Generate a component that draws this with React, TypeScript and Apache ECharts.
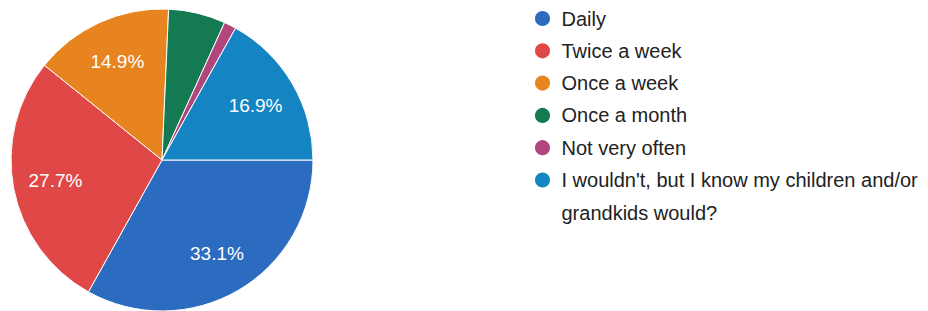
import React, { useEffect, useRef } from "react";
import * as echarts from "echarts";

const categories = [
  "Daily",
  "Twice a week",
  "Once a week",
  "Once a month",
  "Not very often",
  "I wouldn't, but I know my children and/or grandkids would?",
];
const values = [33.1, 27.7, 14.9, 6.1, 1.3, 16.9];
const colors = ["#2b6cc0", "#e04848", "#e8841f", "#137a52", "#b0467c", "#1484c3"];
const legendLabels = [
  "Daily",
  "Twice a week",
  "Once a week",
  "Once a month",
  "Not very often",
  "\nI wouldn't, but I know my children and/or\ngrandkids would?",
];

export default function App() {
  const ref = useRef<HTMLDivElement>(null);
  useEffect(() => {
    if (!ref.current) return;
    const chart = echarts.init(ref.current, undefined, { renderer: "svg" });
    const data = categories.map((name, i) => ({
      name,
      value: values[i],
      itemStyle: { color: colors[i] },
    }));
    const font = "Liberation Sans, Arial, sans-serif";
    const legendBase = {
      orient: "vertical",
      left: 533,
      height: 600,
      width: 400,
      padding: 0,
      icon: "circle",
      itemWidth: 28,
      itemHeight: 17,
      selectedMode: false,
      formatter: (name: string) => legendLabels[categories.indexOf(name)],
    };
    chart.setOption({
      animation: false,
      backgroundColor: "#ffffff",
      legend: [
        {
          ...legendBase,
          top: 8.5,
          itemGap: 12.3,
          textStyle: { fontSize: 20, color: "#222222", fontFamily: font },
          data: categories.slice(0, 5),
        },
        {
          ...legendBase,
          top: 131.25,
          itemGap: 0,
          textStyle: { fontSize: 20, color: "#222222", fontFamily: font, lineHeight: 32.5 },
          data: categories.slice(5),
        },
      ],
      series: [
        {
          type: "pie",
          center: [162, 160],
          radius: [0, 151],
          startAngle: 0,
          clockwise: true,
          avoidLabelOverlap: false,
          itemStyle: { borderColor: "#ffffff", borderWidth: 1 },
          label: { show: false },
          labelLine: { show: false },
          emphasis: { disabled: true },
          data,
        },
        {
          type: "pie",
          center: [162, 160],
          radius: [60, 151],
          startAngle: 0,
          clockwise: true,
          silent: true,
          avoidLabelOverlap: false,
          itemStyle: { color: "rgba(0,0,0,0)", borderWidth: 0 },
          label: {
            show: true,
            position: "inside",
            color: "#ffffff",
            fontSize: 19,
            fontFamily: font,
            formatter: (p: any) => (p.value >= 10 ? p.value.toFixed(1) + "%" : ""),
          },
          labelLine: { show: false },
          emphasis: { disabled: true },
          data: categories.map((name, i) => ({ name, value: values[i] })),
        },
      ],
    });
    return () => chart.dispose();
  }, []);
  return (
    <div
      ref={ref}
      style={{ position: "absolute", left: 0, top: 0, width: 928, height: 311 }}
    />
  );
}
